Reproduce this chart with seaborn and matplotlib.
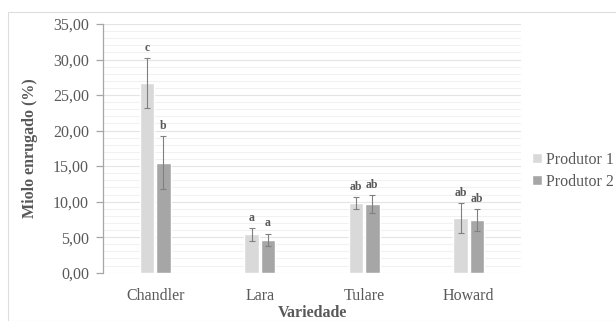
import matplotlib
matplotlib.use("Agg")
import matplotlib.pyplot as plt
from matplotlib.ticker import FuncFormatter, MultipleLocator
from matplotlib.patches import Rectangle
import numpy as np
import pandas as pd
import seaborn as sns

# Data
varieties = ["Chandler", "Lara", "Tulare", "Howard"]
producers = ["Produtor 1", "Produtor 2"]
produtor1 = [26.7, 5.4, 9.8, 7.7]
produtor2 = [15.5, 4.6, 9.7, 7.4]
erro1 = [3.5, 0.9, 0.8, 2.1]
erro2 = [3.7, 0.9, 1.25, 1.6]
letras1 = ["c", "a", "ab", "ab"]
letras2 = ["b", "a", "ab", "ab"]

df = pd.DataFrame({
    "Variedade": varieties * 2,
    "Produtor": [producers[0]] * 4 + [producers[1]] * 4,
    "valor": produtor1 + produtor2,
})

sns.set_theme(style="white")
plt.rcParams["font.family"] = ["Liberation Serif", "DejaVu Serif"]
text_color = "#595959"

fig = plt.figure(figsize=(6.16, 3.21), dpi=100)
ax = fig.add_axes([103 / 616, 1 - 272.7 / 321, (521 - 103) / 616, (272.7 - 24) / 321])

# Chart frame
fig.patches.append(Rectangle((8 / 616, 0), 1, 1 - 12 / 321, transform=fig.transFigure,
                             fill=False, edgecolor="#dedede", linewidth=0.8, zorder=0))

sns.barplot(data=df, x="Variedade", y="valor", hue="Produtor", order=varieties,
            hue_order=producers, palette=["#d9d9d9", "#a6a6a6"], width=0.31, gap=0.1,
            errorbar=None, ax=ax, zorder=3)

# Error bars and significance letters on top of each bar
errs = [erro1, erro2]
letters = [letras1, letras2]
bar_groups = list(ax.containers)
for h, cont in enumerate(bar_groups):
    for i, bar in enumerate(cont.patches):
        xc = bar.get_x() + bar.get_width() / 2
        yv = bar.get_height()
        ax.errorbar(xc, yv, yerr=errs[h][i], color="#808080", elinewidth=0.8,
                    capsize=2, capthick=0.8, zorder=4)
        ax.annotate(letters[h][i], (xc, yv + errs[h][i]), xytext=(0, 3),
                    textcoords="offset points", ha="center", va="bottom",
                    fontsize=8.5, fontweight="bold", color=text_color)

ax.set_ylim(0, 35)
ax.set_xlim(-0.5, 3.5)
ax.yaxis.set_major_locator(MultipleLocator(5))
ax.yaxis.set_minor_locator(MultipleLocator(1))
ax.yaxis.set_major_formatter(FuncFormatter(lambda v, p: f"{v:.2f}".replace(".", ",")))
ax.grid(axis="y", which="major", color="#e4e4e4", linewidth=0.8, zorder=0)
ax.grid(axis="y", which="minor", color="#f1f1f1", linewidth=0.8, zorder=0)
ax.set_axisbelow(True)

for s in ["top", "right", "bottom"]:
    ax.spines[s].set_visible(False)
ax.spines["left"].set_color("#a6a6a6")
ax.spines["left"].set_linewidth(0.9)

ax.tick_params(axis="y", which="major", left=True, length=5, width=0.9, color="#a6a6a6",
               labelsize=11.5, labelcolor=text_color, pad=5)
ax.tick_params(axis="y", which="minor", left=False)
ax.tick_params(axis="x", bottom=False, labelsize=11.5, labelcolor=text_color, pad=5)

ax.set_ylabel("Miolo enrugado (%)", fontsize=11.5, fontweight="bold", color=text_color, labelpad=11)
ax.set_xlabel("Variedade", fontsize=11.5, fontweight="bold", color=text_color, labelpad=1)

ax.legend(loc="center left", bbox_to_anchor=(1.0, 0.41), frameon=False, fontsize=11.5,
          handlelength=0.6, handleheight=0.6, handletextpad=0.25, labelspacing=0.4,
          labelcolor=text_color, borderaxespad=0.3)

fig.savefig("out.png", dpi=100)
